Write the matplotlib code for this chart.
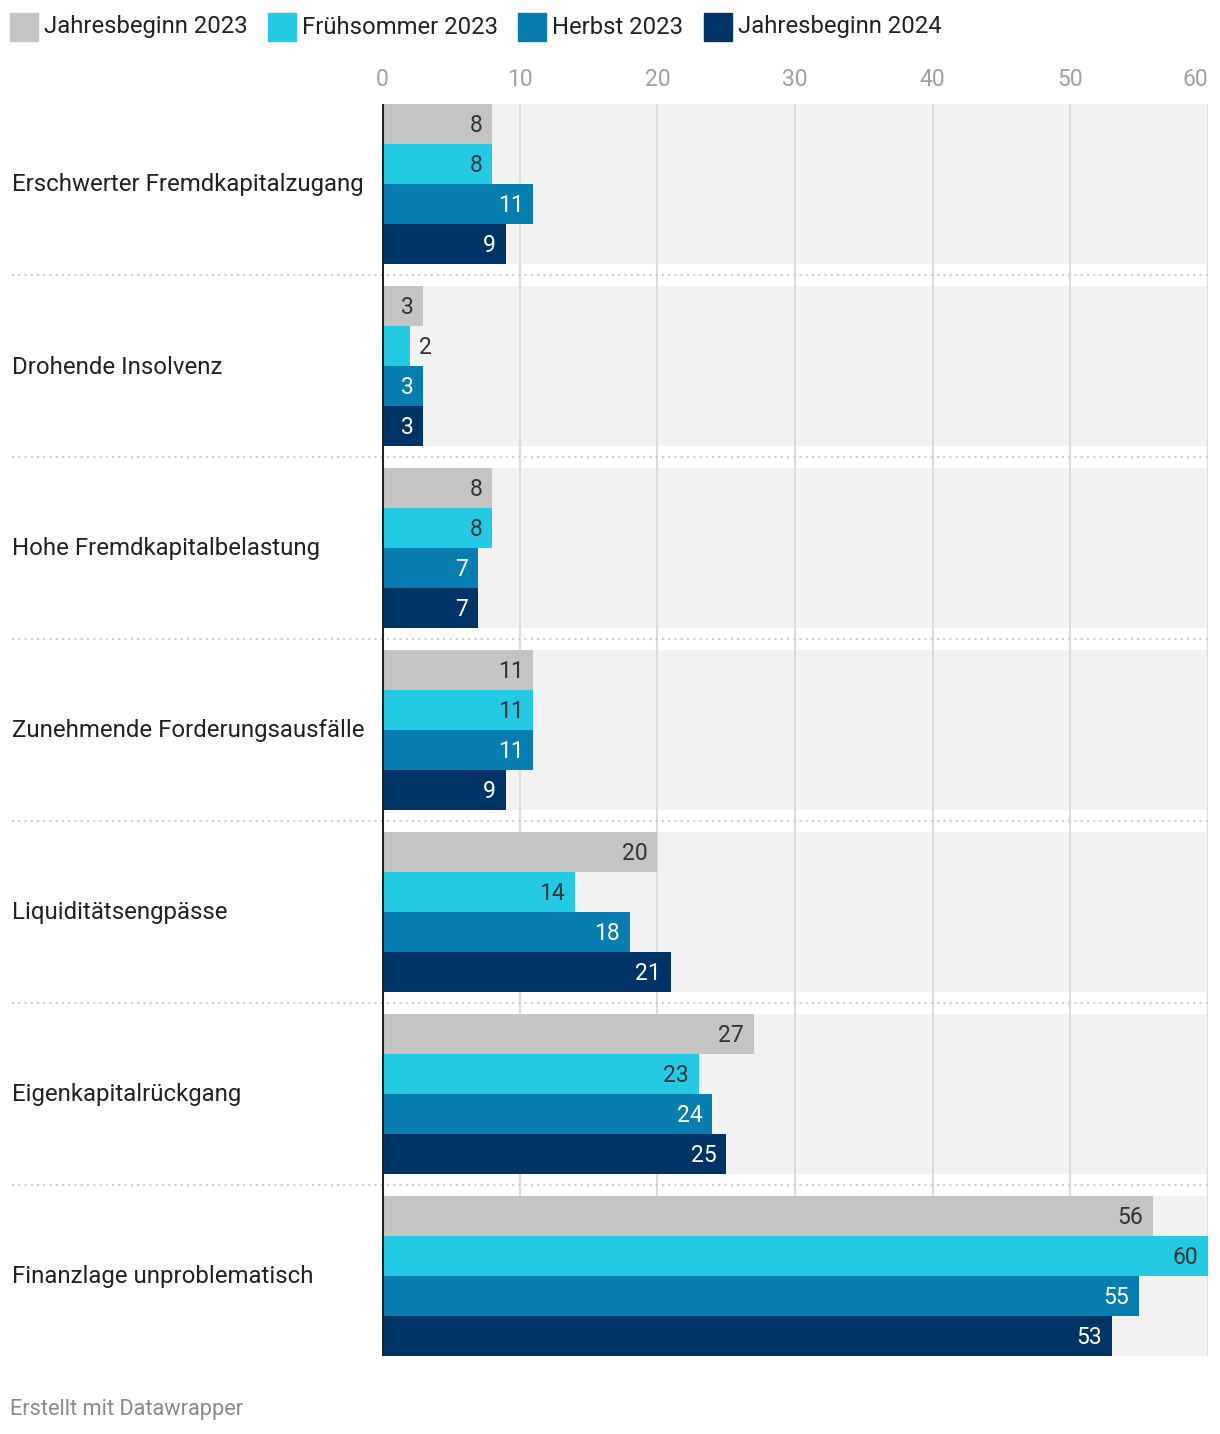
import matplotlib
matplotlib.use("Agg")
import matplotlib.pyplot as plt
import matplotlib.transforms as mtransforms
from matplotlib.patches import Rectangle

plt.rcParams['font.family'] = ['Roboto', 'DejaVu Sans']

# Daten
categories = ['Erschwerter Fremdkapitalzugang', 'Drohende Insolvenz',
              'Hohe Fremdkapitalbelastung', 'Zunehmende Forderungsausfälle',
              'Liquiditätsengpässe', 'Eigenkapitalrückgang',
              'Finanzlage unproblematisch']
series_names = ['Jahresbeginn 2023', 'Frühsommer 2023', 'Herbst 2023', 'Jahresbeginn 2024']
jahresbeginn_2023 = [8, 3, 8, 11, 20, 27, 56]
fruehsommer_2023 = [8, 2, 8, 11, 14, 23, 60]
herbst_2023 = [11, 3, 7, 11, 18, 24, 55]
jahresbeginn_2024 = [9, 3, 7, 9, 21, 25, 53]
series = [jahresbeginn_2023, fruehsommer_2023, herbst_2023, jahresbeginn_2024]
ticks = [0, 10, 20, 30, 40, 50, 60]

colors = ['#c4c4c4', '#24cae4', '#087eb0', '#003466']
label_colors = ['#333333', '#333333', 'white', 'white']

W, H = 1220, 1434
fig = plt.figure(figsize=(W / 100, H / 100), dpi=100)

x0, x1 = 382, 1208
y_top, y_bot = 104, 1356
ax = fig.add_axes([x0 / W, 1 - y_bot / H, (x1 - x0) / W, (y_bot - y_top) / H])

group_step = 182
bar_h = 40
band = bar_h * len(series)

ax.set_xlim(0, 60)
ax.set_ylim(len(categories) * group_step - group_step + band / 2, -band / 2)

for i in range(len(categories)):
    c = i * group_step
    ax.barh(c, 60, height=band, color='#f2f2f2', zorder=0)

for t in ticks[1:]:
    ax.axvline(t, color='#dcdcdc', lw=1.5, zorder=1)

for j, vals in enumerate(series):
    for i, v in enumerate(vals):
        yc = i * group_step - band / 2 + bar_h * (j + 0.5)
        ax.barh(yc, v, height=bar_h, color=colors[j], zorder=2)
        if v >= 2.5:
            ax.text(v - 0.72, yc + 1.5, str(v), ha='right', va='center',
                    fontsize=16.5, color=label_colors[j], zorder=3)
        else:
            ax.text(v + 0.72, yc + 1.5, str(v), ha='left', va='center',
                    fontsize=16.5, color='#333333', zorder=3)

ax.axvline(0, color='#222222', lw=2.2, zorder=4)

# Trennlinien zwischen Gruppen
trans = mtransforms.blended_transform_factory(ax.transAxes, ax.transData)
left_frac = (12 - x0) / (x1 - x0)
for i in range(len(categories) - 1):
    ym = i * group_step + group_step / 2
    ax.plot([left_frac, 1], [ym, ym], transform=trans, color='#cccccc',
            lw=1.5, ls=(0, (1, 2)), clip_on=False, zorder=1)

# Kategorien
for i, cat in enumerate(categories):
    ax.text(left_frac, i * group_step + 1, cat, transform=trans, ha='left',
            va='center', fontsize=17.3, color='#222222')

# Achsenbeschriftung oben
tick_trans = mtransforms.blended_transform_factory(ax.transData, ax.transAxes)
for t in ticks:
    ha = 'right' if t == ticks[-1] else 'center'
    ax.text(t, 1 + 24 / (y_bot - y_top), str(t), transform=tick_trans,
            ha=ha, va='center', fontsize=16.5, color='#a0a0a0')

ax.set_xticks([])
ax.set_yticks([])
for s in ax.spines.values():
    s.set_visible(False)

# Legende
legend_x = [10, 268, 518, 704]
for lx, name, col in zip(legend_x, series_names, colors):
    fig.patches.append(Rectangle((lx / W, 1 - 41 / H), 28 / W, 28 / H,
                                 transform=fig.transFigure, color=col))
    fig.text((lx + 34) / W, 1 - 27 / H, name, ha='left', va='center',
             fontsize=17.2, color='#222222')

fig.text(10 / W, 1 - 1409 / H, 'Erstellt mit Datawrapper', ha='left',
         va='center', fontsize=15.7, color='#8a8a8a')

fig.savefig('out.png', dpi=100, facecolor='white')
